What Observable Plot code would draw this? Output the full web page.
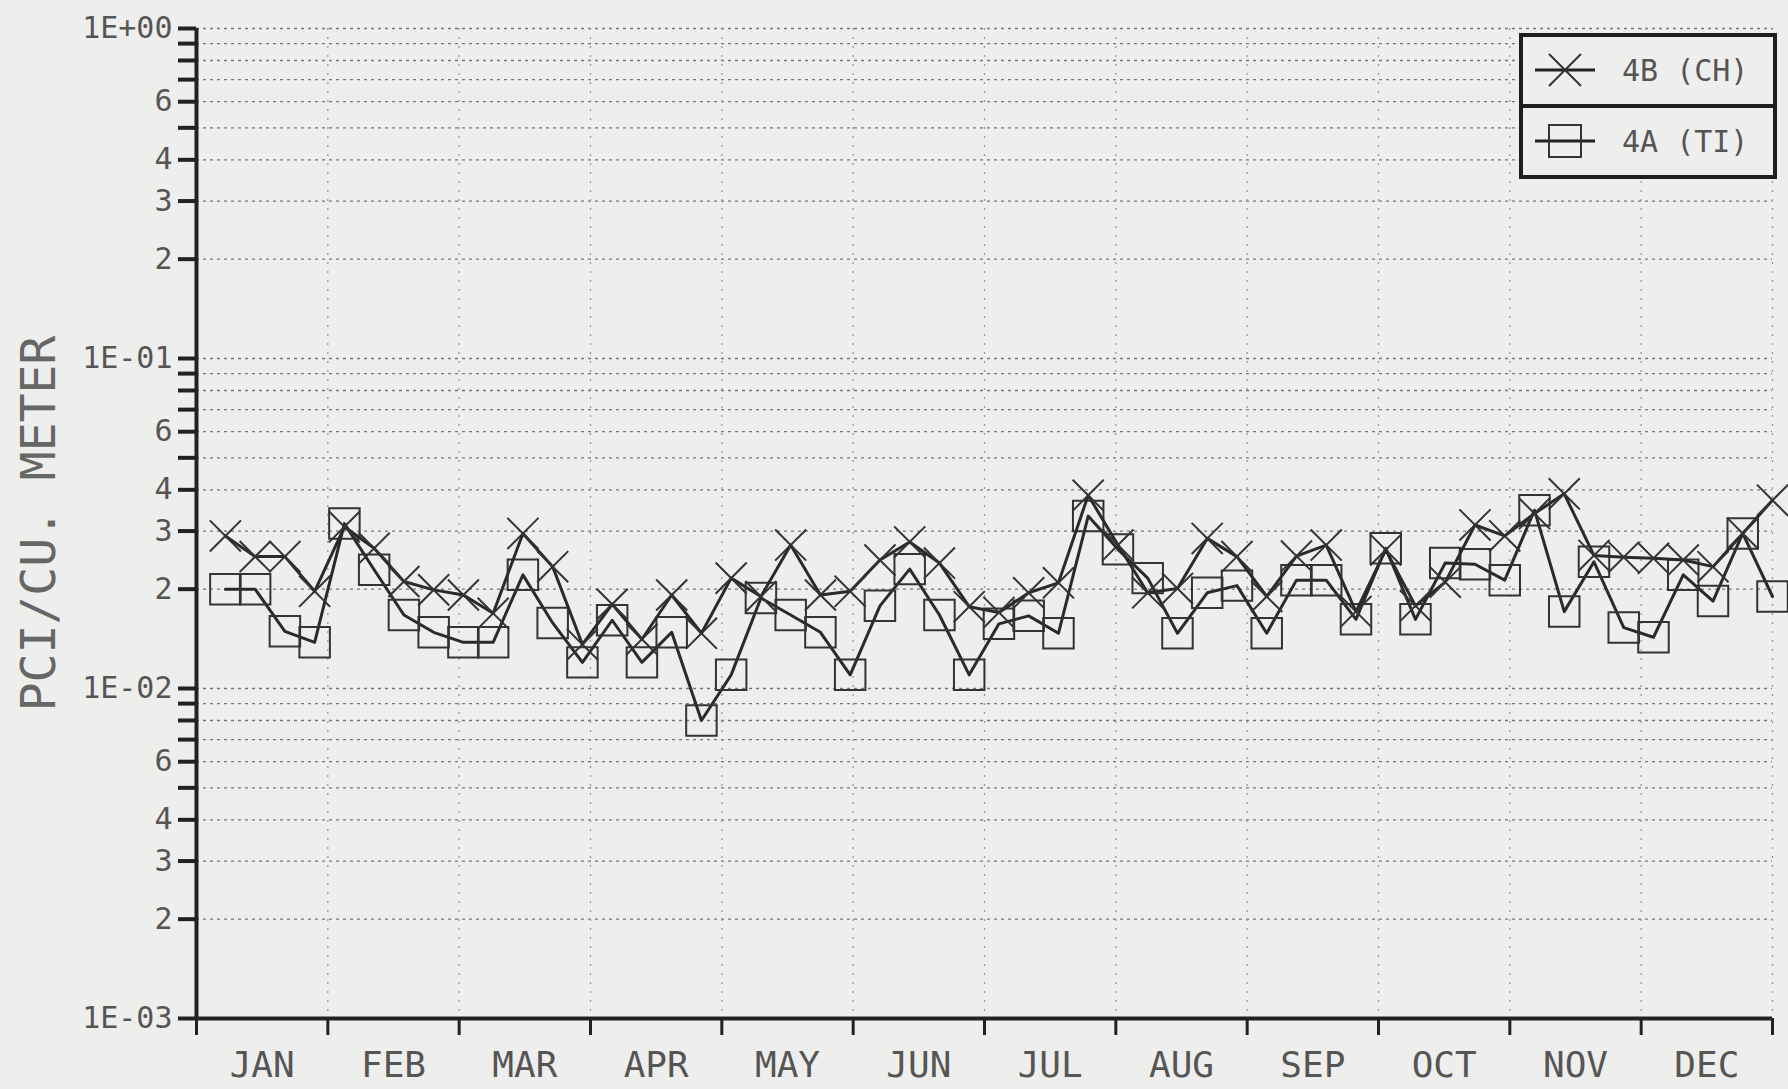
<!DOCTYPE html>
<html>
<head>
<meta charset="utf-8">
<script src="https://cdn.jsdelivr.net/npm/d3@7"></script>
<script src="https://cdn.jsdelivr.net/npm/@observablehq/plot@0.6"></script>
<style>
  html, body { margin: 0; padding: 0; background: #eeeeec; }
  #wrap { position: relative; width: 1788px; height: 1089px; overflow: hidden; }
  #chart svg { display: block; overflow: visible; }
  #legend { position: absolute; left: 1519px; top: 33px; width: 258px; height: 146px; box-sizing: border-box;
            border: 4px solid #1e1e1e; background: #eeeeec; font-family: "DejaVu Sans Mono", monospace;
            font-size: 30px; color: #555; }
  #legend .row { position: relative; height: 67px; }
  #legend .row + .row { border-top: 4px solid #1e1e1e; }
  #legend svg { position: absolute; left: 12px; top: 13px; }
  #legend span { position: absolute; left: 99px; top: 50%; transform: translateY(-52%); white-space: pre; }
</style>
</head>
<body>
<div id="wrap">
  <div id="chart"></div>
  <div id="legend"></div>
</div>
<script>
// ---- data ----
const monthLabels = ["JAN","FEB","MAR","APR","MAY","JUN","JUL","AUG","SEP","OCT","NOV","DEC"];
const seriesNames = ["4B (CH)", "4A (TI)"];
// weekly samples (53 per year), pCi per cubic meter
const ch4B = [0.029,0.0251,0.0251,0.0197,0.0309,0.0266,0.0211,0.0199,0.0192,0.0169,
              0.0295,0.0234,0.0136,0.0180,0.0141,0.0192,0.0147,0.0216,0.0190,0.0272,
              0.0192,0.0197,0.0245,0.0278,0.0240,0.0177,0.0170,0.0195,0.0209,0.0385,
              0.0272,0.0195,0.0201,0.0285,0.0251,0.0190,0.0252,0.0272,0.0171,0.0263,
              0.0178,0.0210,0.0313,0.0290,0.0339,0.0389,0.0253,0.0250,0.0248,0.0245,
              0.0234,0.0295,0.0372];
const ti4A = [0.020,0.020,0.0149,0.0138,0.0316,0.0229,0.0167,0.0148,0.0138,0.0138,
              0.0221,0.0158,0.0120,0.0161,0.0120,0.0148,0.0080,0.0110,0.0188,0.0167,
              0.0148,0.0110,0.0178,0.0230,0.0167,0.0110,0.0157,0.0166,0.0147,0.0333,
              0.0264,0.0216,0.0147,0.0195,0.0205,0.0147,0.0213,0.0213,0.0162,0.0266,
              0.0162,0.0240,0.0238,0.0213,0.0347,0.0171,0.0242,0.0153,0.0143,0.0221,
              0.0184,0.0295,0.0190];
const decades = [-3, -2, -1, 0];
const mantissas = [1,2,3,4,5,6,7,8,9];
const labelledMantissas = [2,3,4,6];

// ---- derived tables ----
const FIRST = 0.22, STEP = 11.78 / 52;   // sample position in month units
const ch = ch4B.map((v, i) => ({x: FIRST + i * STEP, v}));
const ti = ti4A.map((v, i) => ({x: FIRST + i * STEP, v}));

const yTicks = [];
for (const e of decades) for (const m of mantissas) {
  if (e === 0 && m > 1) continue;
  const v = +(m * Math.pow(10, e)).toPrecision(3);
  let label = "";
  if (m === 1) label = "1E" + (e >= 0 ? "+" : "-") + String(Math.abs(e)).padStart(2, "0");
  else if (labelledMantissas.includes(m)) label = String(m);
  yTicks.push({v, label});
}
const yVals = yTicks.map(d => d.v);
const yLabelled = yTicks.filter(d => d.label !== "");
const monthEdges = d3.range(0, 13);
const monthCenters = monthLabels.map((_, i) => ({x: i + 0.5, label: monthLabels[i]}));

const font = "DejaVu Sans Mono, monospace";
const plot = Plot.plot({
  width: 1788, height: 1089,
  marginLeft: 196, marginRight: 16, marginTop: 28, marginBottom: 71,
  style: {background: "transparent", fontFamily: font},
  x: {domain: [0, 12]},
  y: {type: "log", domain: [1e-3, 1]},
  marks: [
    Plot.ruleY(yVals, {stroke: "#777", strokeWidth: 1.3, strokeDasharray: "3,4"}),
    Plot.ruleX(monthEdges.slice(1), {stroke: "#999", strokeWidth: 1.3, strokeDasharray: "2,7"}),
    Plot.axisY({ticks: yVals, tickSize: 18, tickFormat: () => "", stroke: "#222", strokeWidth: 4, label: null}),
    Plot.text(yLabelled, {y: "v", text: "label", frameAnchor: "left", textAnchor: "end", lineAnchor: "middle",
                          dx: -24, fontSize: 30, fontFamily: font, fill: "#555"}),
    Plot.axisX({ticks: monthEdges, tickSize: 17, tickFormat: () => "", stroke: "#222", strokeWidth: 3, label: null}),
    Plot.text(monthCenters, {x: "x", text: "label", frameAnchor: "bottom", lineAnchor: "top", dy: 33,
                             fontSize: 36, fontFamily: font, fill: "#555"}),
    Plot.ruleX([0], {stroke: "#222", strokeWidth: 4}),
    Plot.ruleY([1e-3], {stroke: "#222", strokeWidth: 4}),
    Plot.line(ti, {x: "x", y: "v", stroke: "#2a2a2a", strokeWidth: 3}),
    Plot.dot(ti, {x: "x", y: "v", symbol: "square", r: 17.2, stroke: "#333", strokeWidth: 2, fill: "none"}),
    Plot.line(ch, {x: "x", y: "v", stroke: "#2a2a2a", strokeWidth: 3}),
    Plot.dot(ch, {x: "x", y: "v", symbol: "times", r: 14.2, stroke: "#333", strokeWidth: 2, fill: "none"}),
    Plot.text(["PCI/CU. METER"], {frameAnchor: "left", rotate: -90, dx: -157, textAnchor: "middle",
                                  lineAnchor: "middle", fontSize: 48, fontFamily: font, fill: "#666"})
  ]
});
document.getElementById("chart").appendChild(plot);

// ---- legend ----
const legend = document.getElementById("legend");
const markers = [
  '<line x1="0" y1="20" x2="60" y2="20" stroke="#222" stroke-width="3"/><path d="M14,4L46,36M46,4L14,36" stroke="#333" stroke-width="2" fill="none"/>',
  '<line x1="0" y1="20" x2="60" y2="20" stroke="#222" stroke-width="3"/><rect x="14" y="4" width="32" height="32" stroke="#333" stroke-width="2" fill="none"/>'
];
seriesNames.forEach((name, i) => {
  const row = document.createElement("div");
  row.className = "row";
  row.innerHTML = `<svg width="62" height="40">${markers[i]}</svg><span>${name}</span>`;
  legend.appendChild(row);
});
</script>
</body>
</html>
